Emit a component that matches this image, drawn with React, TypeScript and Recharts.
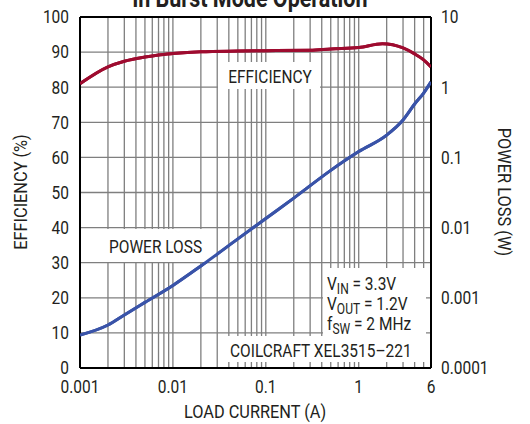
import React from "react";
import {
  ComposedChart,
  Line,
  XAxis,
  YAxis,
  CartesianGrid,
  ReferenceLine,
} from "recharts";

const FONT = "Roboto, 'Liberation Sans', sans-serif";
const SX = 0.86; // squeeze to mimic the condensed face
const GRID = "#7f7f7f";
const TEXT = "#231f20";

// efficiency (%) vs load current (A)
const EFF_X = [0.001, 0.002, 0.003, 0.005, 0.007, 0.01, 0.02, 0.05, 0.1, 0.3, 0.5, 1, 1.8, 3, 4, 5, 6];
const EFF = [81, 85.8, 87.4, 88.6, 89.2, 89.6, 90.1, 90.3, 90.4, 90.5, 90.9, 91.3, 92.4, 91.2, 89.5, 87.8, 85.8];

// power loss (W) vs load current (A)
const LOSS_X = [0.001, 0.002, 0.003, 0.005, 0.01, 0.02, 0.05, 0.1, 0.2, 0.5, 1, 2, 3, 4, 5, 6];
const LOSS = [0.000295, 0.00041, 0.00057, 0.00086, 0.0015, 0.00284, 0.0069, 0.0135, 0.0263, 0.0653, 0.121, 0.208, 0.341, 0.576, 0.826, 1.19];

const X_TICKS = [0.001, 0.01, 0.1, 1, 6];
const EFF_TICKS = [0, 10, 20, 30, 40, 50, 60, 70, 80, 90, 100];
const LOSS_TICKS = [0.0001, 0.001, 0.01, 0.1, 1, 10];

// log grid lines inside the plot
const GRID_X: number[] = [];
[0.001, 0.01, 0.1, 1].forEach((d) => {
  for (let m = 1; m <= 9; m++) {
    const v = Number((m * d).toPrecision(3));
    if (v > 0.001 && v < 6) GRID_X.push(v);
  }
});

const effData = EFF_X.map((x, i) => ({ x, eff: EFF[i] }));
const lossData = LOSS_X.map((x, i) => ({ x, loss: LOSS[i] }));

const T = ({ x, y, size = 18, anchor = "start", rotate = 0, weight, dy, children }: any) => (
  <text
    transform={`translate(${x} ${y}) rotate(${rotate}) scale(${SX} 1)`}
    textAnchor={anchor}
    fontSize={size}
    fontWeight={weight}
    fontFamily={FONT}
    fill={TEXT}
    dy={dy}
  >
    {children}
  </text>
);

const tick = (dy: string) => (props: any) => (
  <T x={props.x} y={props.y} anchor={props.textAnchor} dy={dy}>
    {String(props.payload.value)}
  </T>
);

const Series = () => [
  <Line
    key="eff"
    yAxisId="eff"
    data={effData}
    dataKey="eff"
    type="monotone"
    stroke="#9e0b2f"
    strokeWidth={3}
    dot={false}
    isAnimationActive={false}
  />,
  <Line
    key="loss"
    yAxisId="loss"
    data={lossData}
    dataKey="loss"
    type="monotone"
    stroke="#3953a8"
    strokeWidth={3}
    dot={false}
    isAnimationActive={false}
  />,
];

const Sub = ({ main, sub, rest, x, y }: any) => (
  <T x={x} y={y}>
    {main}
    <tspan fontSize={14} dy={4}>{sub}</tspan>
    <tspan dy={-4}>{rest}</tspan>
  </T>
);

export default function App() {
  const box = { fill: "#fff" };
  const axisLine = { stroke: "#000", strokeWidth: 2 };
  return (
    <div style={{ position: "absolute", left: 0, top: 0, width: 530, height: 424, background: "#fff", overflow: "hidden" }}>
      <div style={{ position: "absolute", left: 0, top: 0 }}>
        <ComposedChart width={530} height={424} margin={{ top: 17, right: 39, bottom: 26, left: 20 }}>
          <CartesianGrid yAxisId="eff" vertical={false} stroke={GRID} strokeWidth={1.3} />
          <XAxis
            dataKey="x"
            type="number"
            scale="log"
            domain={[0.001, 6]}
            ticks={X_TICKS}
            interval={0}
            allowDataOverflow
            height={30}
            tickLine={false}
            tickSize={0}
            tickMargin={12}
            axisLine={axisLine}
            tick={tick("0.71em")}
          />
          <YAxis
            yAxisId="eff"
            domain={[0, 100]}
            ticks={EFF_TICKS}
            interval={0}
            width={60}
            tickLine={false}
            tickSize={0}
            tickMargin={11}
            axisLine={axisLine}
            tick={tick("0.355em")}
          />
          <YAxis
            yAxisId="loss"
            orientation="right"
            scale="log"
            domain={[0.0001, 10]}
            ticks={LOSS_TICKS}
            interval={0}
            allowDataOverflow
            width={60}
            tickLine={false}
            tickSize={0}
            tickMargin={10}
            axisLine={axisLine}
            tick={tick("0.355em")}
          />
          {GRID_X.map((v) => (
            <ReferenceLine key={v} x={v} yAxisId="eff" stroke={GRID} strokeWidth={1.3} />
          ))}
          <ReferenceLine y={100} yAxisId="eff" stroke="#000" strokeWidth={2} />
          {Series()}
        </ComposedChart>
      </div>

      <svg width={530} height={424} style={{ position: "absolute", left: 0, top: 0 }}>
        <T x={250} y={7} anchor="middle" size={25} weight="bold">in Burst Mode Operation</T>
        <rect x={218} y={62} width={102} height={27} {...box} />
        <T x={270} y={83} anchor="middle">EFFICIENCY</T>
        <rect x={100} y={229} width={116} height={33} {...box} />
        <T x={109} y={253}>POWER LOSS</T>
        <rect x={323} y={268} width={103} height={69} {...box} />
        <rect x={225} y={336} width={201} height={26} {...box} />
        <Sub x={327} y={290} main="V" sub="IN" rest=" = 3.3V" />
        <Sub x={327} y={310} main="V" sub="OUT" rest=" = 1.2V" />
        <Sub x={327} y={330} main="f" sub="SW" rest=" = 2 MHz" />
        <T x={230} y={357}>COILCRAFT XEL3515–221</T>
        <T x={255} y={418} anchor="middle" size={19}>LOAD CURRENT (A)</T>
        <T x={27} y={192} anchor="middle" size={19} rotate={-90}>EFFICIENCY (%)</T>
        <T x={498} y={192} anchor="middle" size={19} rotate={90}>POWER LOSS (W)</T>
      </svg>

      <div style={{ position: "absolute", left: 0, top: 0 }}>
        <ComposedChart width={530} height={424} margin={{ top: 17, right: 99, bottom: 56, left: 80 }}>
          <XAxis dataKey="x" type="number" scale="log" domain={[0.001, 6]} allowDataOverflow hide />
          <YAxis yAxisId="eff" domain={[0, 100]} hide />
          <YAxis yAxisId="loss" orientation="right" scale="log" domain={[0.0001, 10]} allowDataOverflow hide />
          {Series()}
        </ComposedChart>
      </div>
    </div>
  );
}
